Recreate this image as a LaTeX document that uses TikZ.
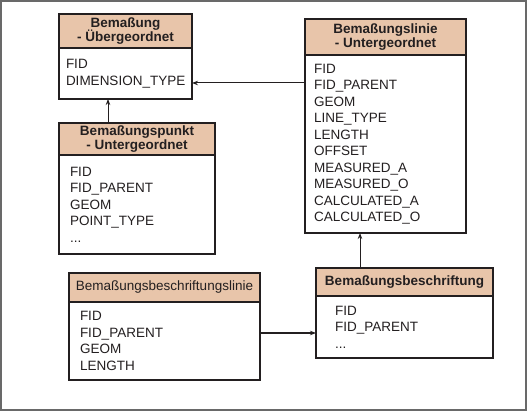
\documentclass[tikz,border=0pt]{standalone}
\usepackage{fontspec}
\setmainfont{Liberation Sans}
\usepackage{tikz}
\usetikzlibrary{arrows.meta, positioning}
\definecolor{hdtan}{RGB}{232,197,170}
\definecolor{ink}{RGB}{35,31,32}
\definecolor{rim}{RGB}{105,105,105}

\begin{document}
\begin{tikzpicture}[x=1pt, y=-1pt,
    hd/.style={draw=ink, line width=1.2pt, fill=hdtan, text=ink, align=center, inner sep=0pt, outer sep=0pt,
               anchor=north west, font=\fontsize{13.5}{14.5}\selectfont\bfseries},
    bd/.style={draw=ink, line width=1.2pt, fill=white, text=ink, align=left, inner ysep=0pt, outer sep=0pt,
               below=0pt of #1, font=\fontsize{13.5}{16.5}\selectfont},
    arr/.style={-{Stealth[length=6pt, width=4.5pt]}, ink, line width=1pt}]
  \useasboundingbox (0,0) rectangle (527,411);
  \draw[rim, line width=1.6pt] (0.8,0.8) rectangle (526.2,410.2);
  % parent
  \node[hd, minimum width=133pt, minimum height=34pt] (bemHead) at (59,14) {Bemaßung\\ - Übergeordnet};
  \node[bd=bemHead, text width=119pt, inner xsep=7pt, minimum height=51pt] (bemBody) {FID\\ DIMENSION\_TYPE};
  % children
  \node[hd, minimum width=156pt, minimum height=32pt] (pktHead) at (59,123) {Bemaßungspunkt\\ - Untergeordnet};
  \node[bd=pktHead, text width=134pt, inner xsep=11pt, minimum height=99pt] (pktBody) {FID\\ FID\_PARENT\\ GEOM\\ POINT\_TYPE\\ ...};
  \node[hd, minimum width=161pt, minimum height=36pt] (linHead) at (305,19) {Bemaßungslinie\\ - Untergeordnet};
  \node[bd=linHead, text width=143pt, inner xsep=9pt, minimum height=178pt] (linBody) {FID\\ FID\_PARENT\\ GEOM\\ LINE\_TYPE\\ LENGTH\\ OFFSET\\ MEASURED\_A\\ MEASURED\_O\\ CALCULATED\_A\\ CALCULATED\_O};
  % labels
  \node[hd, minimum width=191pt, minimum height=29pt, font=\fontsize{13.5}{14.5}\selectfont] (bblHead) at (69,273) {Bemaßungsbeschriftungslinie};
  \node[bd=bblHead, text width=169pt, inner xsep=11pt, minimum height=78pt] (bblBody) {FID\\ FID\_PARENT\\ GEOM\\ LENGTH};
  \node[hd, minimum width=177pt, minimum height=28pt] (schHead) at (316,268) {Bemaßungsbeschriftung};
  \node[bd=schHead, text width=139pt, inner xsep=19pt, minimum height=62pt] (schBody) {FID\\ FID\_PARENT\\ ...};
  % connectors
  \coordinate (j0) at (108,0);
  \coordinate (j1) at (0,83);
  \coordinate (j2) at (360,0);
  \coordinate (j3) at (0,333);
  \draw[arr] (pktHead.north -| j0) -- (bemBody.south -| j0);
  \draw[arr] (linBody.west |- j1) -- (bemBody.east |- j1);
  \draw[arr] (schHead.north -| j2) -- (linBody.south -| j2);
  \draw[arr] (bblBody.east |- j3) -- (schBody.west |- j3);
\end{tikzpicture}
\end{document}
